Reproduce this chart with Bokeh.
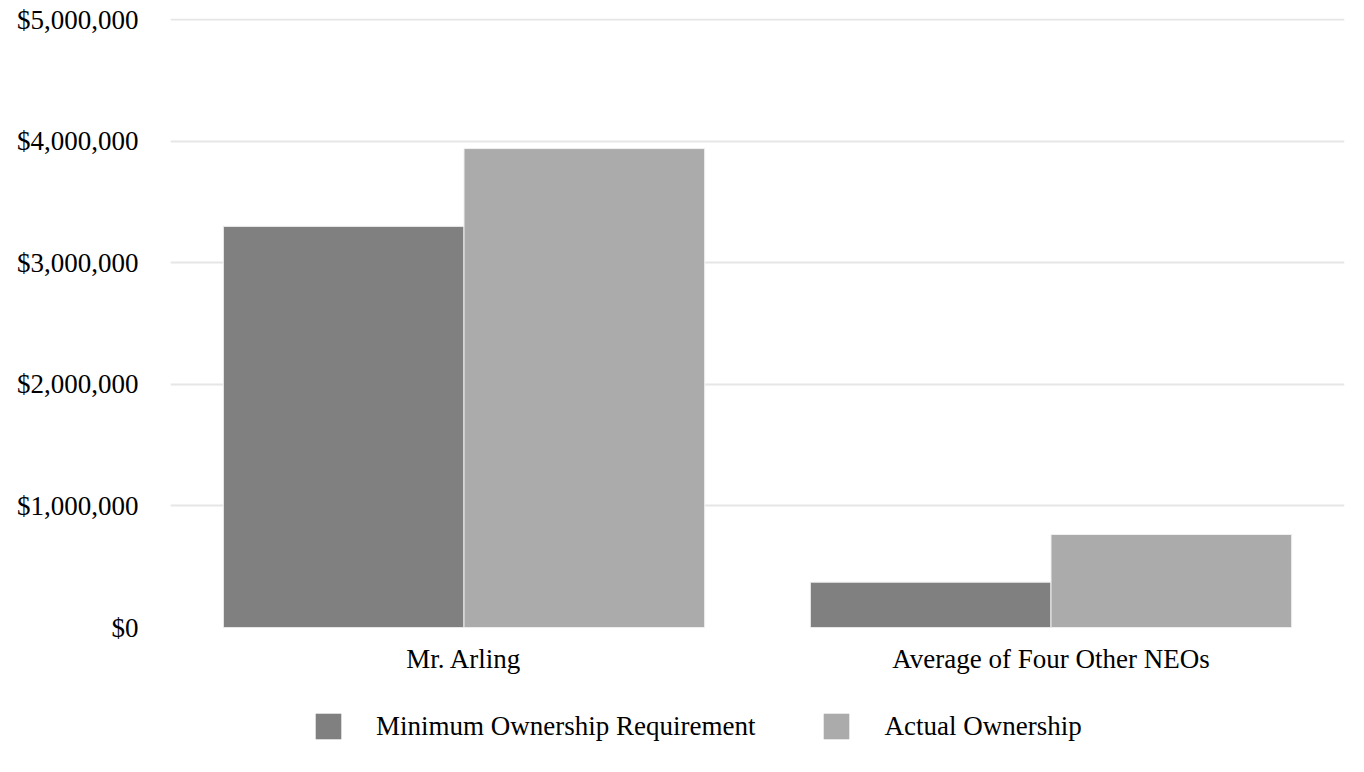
from bokeh.plotting import figure
from bokeh.models import ColumnDataSource, NumeralTickFormatter, Legend, LegendItem, FixedTicker
from bokeh.transform import dodge
from bokeh.layouts import column
from bokeh.embed import file_html
from bokeh.resources import INLINE

categories = ["Mr. Arling", "Average of Four Other NEOs"]
min_requirement = [3300000, 373000]
actual_ownership = [3940000, 765000]
series_names = ["Minimum Ownership Requirement", "Actual Ownership"]
series_colors = ["#808080", "#ababab"]
y_ticks = [0, 1000000, 2000000, 3000000, 4000000, 5000000]

src = ColumnDataSource(dict(cat=categories, mn=min_requirement, act=actual_ownership))

FONT = "Liberation Serif"

p = figure(x_range=categories, y_range=(0, 5010000), width=1356, height=700,
           output_backend="svg", toolbar_location=None,
           min_border_left=170, min_border_right=12, min_border_top=18, min_border_bottom=73)
p.outline_line_color = None
p.x_range.range_padding = 0

r1 = p.vbar(x=dodge("cat", -0.205, range=p.x_range), top="mn", width=0.41, source=src,
            fill_color=series_colors[0], line_color="#f0f0f0", line_width=1)
r2 = p.vbar(x=dodge("cat", 0.205, range=p.x_range), top="act", width=0.41, source=src,
            fill_color=series_colors[1], line_color="#f0f0f0", line_width=1)

p.yaxis.ticker = FixedTicker(ticks=y_ticks)
p.yaxis.formatter = NumeralTickFormatter(format="$0,0")
for ax in (p.xaxis, p.yaxis):
    ax.axis_line_color = None
    ax.major_tick_line_color = None
    ax.minor_tick_line_color = None
    ax.major_label_text_font = FONT
    ax.major_label_text_font_size = "27px"
    ax.major_label_text_color = "#000000"
p.yaxis.major_label_standoff = 26
p.xaxis.major_label_standoff = 10

p.xgrid.grid_line_color = None
p.ygrid.grid_line_color = "#e6e6e6"
p.ygrid.grid_line_width = 2

# legend strip below the chart (legend proxies lie outside the visible range)
lg = figure(width=1356, height=64, x_range=(0, 1), y_range=(0, 1),
            output_backend="svg", toolbar_location=None, min_border=0)
lg.outline_line_color = None
lg.axis.visible = False
lg.grid.visible = False
lr1 = lg.rect(x=[-5], y=[-5], width=1, height=1, fill_color=series_colors[0], line_color=None)
lr2 = lg.rect(x=[-5], y=[-5], width=1, height=1, fill_color=series_colors[1], line_color=None)

legend = Legend(items=[LegendItem(label=series_names[0], renderers=[lr1]),
                       LegendItem(label=series_names[1], renderers=[lr2])],
                orientation="horizontal", location=(142, 22),
                label_text_font=FONT, label_text_font_size="27px", label_text_color="#000000",
                label_height=32, glyph_width=32, glyph_height=32, label_standoff=32, spacing=65,
                border_line_color=None, background_fill_alpha=0, margin=0, padding=0)
lg.add_layout(legend, "center")

open("out.html", "w").write(file_html(column(p, lg), INLINE))
